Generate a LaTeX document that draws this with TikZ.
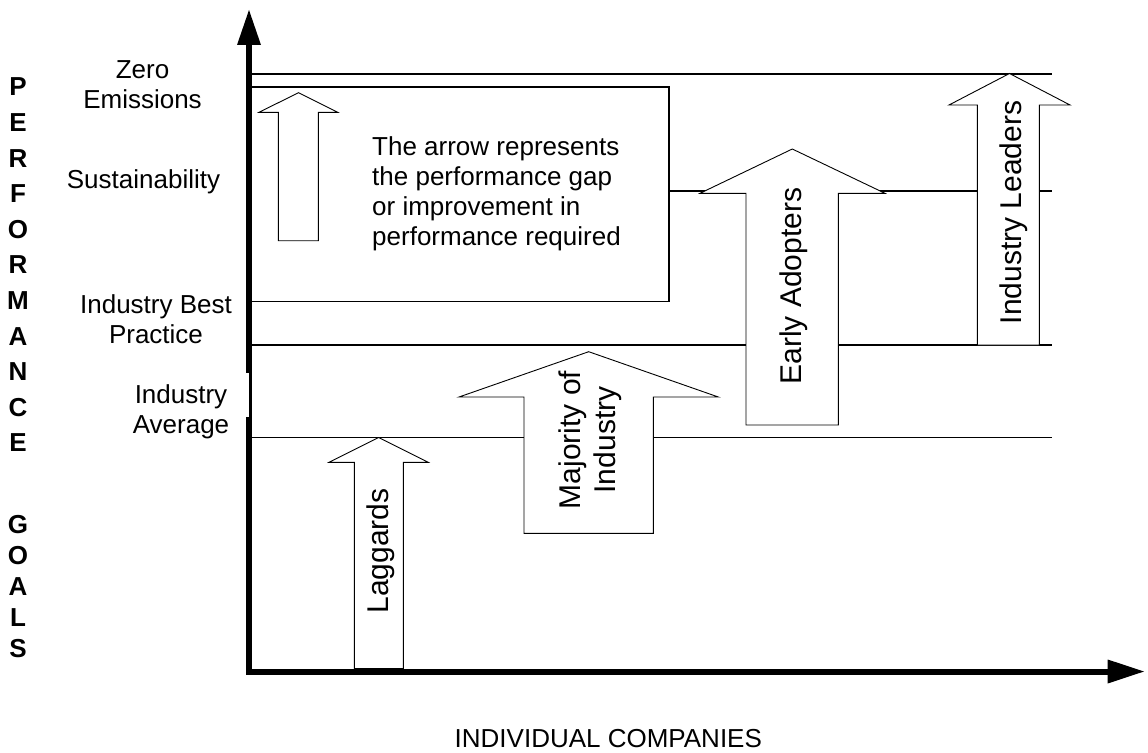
\documentclass[tikz,border=0pt]{standalone}
\usepackage{fontspec}
\setmainfont{Liberation Sans}
\begin{document}
\begin{tikzpicture}[x=1pt,y=-1pt,
  lbl/.style={font=\fontsize{26}{30}\selectfont, inner sep=0pt},
  vlbl/.style={font=\fontsize{30}{35}\selectfont, inner sep=0pt, rotate=90},
  goal/.style={font=\fontsize{26}{30}\selectfont\bfseries, inner sep=0pt},
  level/.style={line width=1.1pt},
  bigarrow/.style={draw, fill=white, line width=0.9pt, line join=miter},
  axisline/.style={line width=6pt},
  axishead/.style={fill=black},
]
\useasboundingbox (0,0) rectangle (1148,752);

% performance levels
\coordinate (z0) at (250,74);    \coordinate (z1) at (1052,74);
\coordinate (s0) at (669,191);   \coordinate (s1) at (1052,191);
\coordinate (b0) at (250,345);   \coordinate (b1) at (1052,345);
\coordinate (a0) at (250,437.5); \coordinate (a1) at (1052,437.5);
\draw[level] (z0) -- (z1);
\draw[level] (s0) -- (s1);
\draw[level] (b0) -- (b1);
\draw[level] (a0) -- (a1);

% explanation box with its sample arrow
\filldraw[fill=white, line width=1.1pt] (250,87) rectangle (669,301.5);
\path[bigarrow] (298.5,92.7) -- (337.7,112.3) -- (318.3,112.3) -- (318.3,240.7)
  -- (278.3,240.7) -- (278.3,112.3) -- (259,112.3) -- cycle;
\node[lbl, anchor=north west, align=left] (note) at (372,136.4)
  {The arrow represents\\ the performance gap\\or improvement in\\performance required};

% company groups
\path[bigarrow] (378.7,437.5) -- (428.3,462.3) -- (403.3,462.3) -- (403.3,668.5)
  -- (354.3,668.5) -- (354.3,462.3) -- (329,462.3) -- cycle;
\path[bigarrow] (588.7,351.7) -- (718.3,397) -- (653.3,397) -- (653.3,533.3)
  -- (524,533.3) -- (524,397) -- (459,397) -- cycle;
\path[bigarrow] (792.3,149) -- (885,193.3) -- (838.3,193.3) -- (838.3,425)
  -- (746,425) -- (746,193.3) -- (700,193.3) -- cycle;
\path[bigarrow] (1009.5,73.5) -- (1070,105) -- (1039.3,105) -- (1039.3,345)
  -- (977.3,345) -- (977.3,105) -- (949,105) -- cycle;

\node[vlbl, anchor=base] (lag) at (388.3,551) {Laggards};
\node[vlbl, anchor=center, align=center] (maj) at (590.5,440) {Majority of\\Industry};
\node[vlbl, anchor=base] (early) at (801.7,286) {Early Adopters};
\node[vlbl, anchor=base] (lead) at (1021.7,212.5) {Industry Leaders};

% axes
\coordinate (org) at (249,671.5);
\coordinate (ytop) at (249,44);
\coordinate (xend) at (1108,671.5);
\draw[axisline] (249,674.5) -- (ytop);
\draw[axisline] (246,671.5) -- (xend);
\fill[axishead] (237,45) -- (261,45) -- (249,10) -- cycle;
\fill[axishead] (1107.7,659.5) -- (1107.7,683.5) -- (1144,671.5) -- cycle;

% level labels
\fill[white] (200,372.7) rectangle (249.3,417.3);
\node[lbl, anchor=north, align=center] (zero) at (142.5,60) {Zero\\Emissions};
\node[lbl, anchor=base] (sus) at (143.5,188) {Sustainability};
\node[lbl, anchor=north, align=center] (best) at (156,294.4) {Industry Best\\Practice};
\node[lbl, anchor=north, align=center] (avg) at (181,384.4) {Industry\\Average};

\node[lbl, anchor=base] (xlabel) at (608.3,747) {INDIVIDUAL COMPANIES};

% vertical axis title, one letter per row
\foreach \ch/\yy [count=\i] in {P/87,E/122.6,R/158.2,F/193.8,O/229.4,R/265,M/300.6,A/336.2,N/371.8,C/407.4,E/443,
  G/525,O/556,A/587,L/618,S/649}
  \node[goal] (g\i) at (18,\yy) {\ch};
\end{tikzpicture}
\end{document}
